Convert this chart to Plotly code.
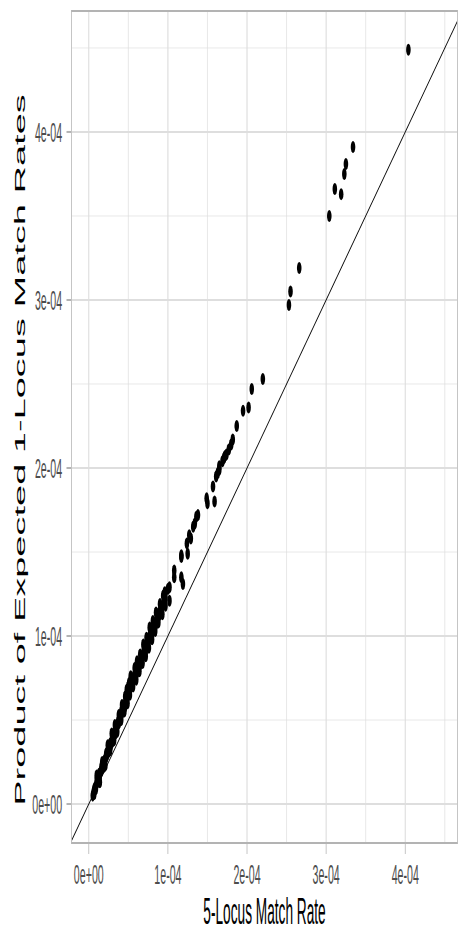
import plotly.graph_objects as go

# ---- data ----
match_rate_5locus = [
    0.05e-4, 0.06e-4, 0.07e-4, 0.07e-4, 0.08e-4, 0.09e-4, 0.10e-4, 0.10e-4, 0.11e-4, 0.12e-4,
    0.13e-4, 0.13e-4, 0.14e-4, 0.15e-4, 0.16e-4, 0.16e-4, 0.17e-4, 0.18e-4, 0.19e-4, 0.19e-4,
    0.20e-4, 0.21e-4, 0.22e-4, 0.22e-4, 0.23e-4, 0.24e-4, 0.25e-4, 0.25e-4, 0.26e-4, 0.27e-4,
    0.28e-4, 0.29e-4, 0.30e-4, 0.30e-4, 0.31e-4, 0.32e-4, 0.33e-4, 0.34e-4, 0.34e-4, 0.35e-4,
    0.36e-4, 0.37e-4, 0.38e-4, 0.39e-4, 0.40e-4, 0.40e-4, 0.41e-4, 0.42e-4, 0.43e-4, 0.44e-4,
    0.45e-4, 0.46e-4, 0.47e-4, 0.48e-4, 0.49e-4, 0.50e-4, 0.50e-4, 0.51e-4, 0.52e-4, 0.53e-4,
    0.54e-4, 0.55e-4, 0.56e-4, 0.57e-4, 0.58e-4, 0.59e-4, 0.60e-4, 0.61e-4, 0.62e-4, 0.63e-4,
    0.64e-4, 0.65e-4, 0.66e-4, 0.67e-4, 0.68e-4, 0.69e-4, 0.70e-4, 0.71e-4, 0.72e-4, 0.73e-4,
    0.74e-4, 0.75e-4, 0.76e-4, 0.77e-4, 0.78e-4, 0.79e-4, 0.80e-4, 0.81e-4, 0.82e-4, 0.83e-4,
    0.84e-4, 0.85e-4, 0.86e-4, 0.87e-4, 0.88e-4, 0.89e-4, 0.90e-4, 0.91e-4, 0.92e-4, 0.93e-4,
    0.95e-4, 0.96e-4, 0.97e-4,
    0.10e-4, 0.14e-4, 0.17e-4, 0.21e-4, 0.24e-4, 0.27e-4, 0.29e-4, 0.32e-4, 0.33e-4, 0.36e-4,
    0.38e-4, 0.41e-4, 0.42e-4, 0.45e-4, 0.46e-4, 0.49e-4, 0.48e-4, 0.52e-4, 0.53e-4, 0.56e-4,
    0.58e-4, 0.60e-4, 0.61e-4, 0.64e-4, 0.65e-4, 0.68e-4, 0.69e-4, 0.72e-4, 0.73e-4, 0.76e-4,
    0.77e-4, 0.80e-4, 0.81e-4, 0.84e-4, 0.85e-4, 0.88e-4, 0.90e-4, 0.93e-4, 0.94e-4, 0.97e-4,
    1.00e-4, 1.02e-4, 1.02e-4, 1.08e-4, 1.08e-4, 1.17e-4, 1.19e-4, 1.17e-4, 1.17e-4, 1.24e-4,
    1.25e-4, 1.27e-4, 1.29e-4, 1.32e-4, 1.34e-4, 1.36e-4, 1.38e-4, 1.50e-4, 1.49e-4, 1.57e-4,
    1.59e-4, 1.61e-4, 1.63e-4, 1.65e-4, 1.65e-4, 1.69e-4, 1.71e-4, 1.72e-4, 1.74e-4, 1.77e-4,
    1.80e-4, 1.82e-4, 1.87e-4, 1.95e-4, 2.02e-4, 2.06e-4, 2.20e-4,
    2.53e-4, 2.55e-4, 2.66e-4, 3.04e-4, 3.11e-4, 3.19e-4, 3.23e-4, 3.25e-4, 3.34e-4, 4.04e-4,
]
expected_product = [
    0.05e-4, 0.07e-4, 0.06e-4, 0.09e-4, 0.10e-4, 0.09e-4, 0.12e-4, 0.14e-4, 0.13e-4, 0.15e-4,
    0.16e-4, 0.18e-4, 0.17e-4, 0.19e-4, 0.20e-4, 0.22e-4, 0.21e-4, 0.23e-4, 0.24e-4, 0.22e-4,
    0.26e-4, 0.27e-4, 0.28e-4, 0.30e-4, 0.29e-4, 0.31e-4, 0.33e-4, 0.31e-4, 0.34e-4, 0.36e-4,
    0.35e-4, 0.38e-4, 0.39e-4, 0.37e-4, 0.40e-4, 0.42e-4, 0.43e-4, 0.45e-4, 0.42e-4, 0.46e-4,
    0.47e-4, 0.49e-4, 0.48e-4, 0.51e-4, 0.53e-4, 0.50e-4, 0.55e-4, 0.54e-4, 0.57e-4, 0.56e-4,
    0.59e-4, 0.58e-4, 0.62e-4, 0.61e-4, 0.64e-4, 0.70e-4, 0.66e-4, 0.72e-4, 0.68e-4, 0.70e-4,
    0.72e-4, 0.71e-4, 0.74e-4, 0.76e-4, 0.75e-4, 0.78e-4, 0.77e-4, 0.80e-4, 0.79e-4, 0.82e-4,
    0.84e-4, 0.83e-4, 0.86e-4, 0.85e-4, 0.88e-4, 0.90e-4, 0.89e-4, 0.92e-4, 0.91e-4, 0.94e-4,
    0.96e-4, 0.95e-4, 0.98e-4, 1.00e-4, 0.99e-4, 1.02e-4, 1.01e-4, 1.04e-4, 1.06e-4, 1.05e-4,
    1.08e-4, 1.07e-4, 1.10e-4, 1.12e-4, 1.11e-4, 1.14e-4, 1.13e-4, 1.16e-4, 1.15e-4, 1.18e-4,
    1.20e-4, 1.26e-4, 1.23e-4,
    0.17e-4, 0.13e-4, 0.25e-4, 0.23e-4, 0.35e-4, 0.32e-4, 0.42e-4, 0.38e-4, 0.47e-4, 0.43e-4,
    0.53e-4, 0.50e-4, 0.59e-4, 0.55e-4, 0.64e-4, 0.60e-4, 0.68e-4, 0.65e-4, 0.76e-4, 0.70e-4,
    0.81e-4, 0.74e-4, 0.85e-4, 0.79e-4, 0.89e-4, 0.84e-4, 0.95e-4, 0.88e-4, 0.99e-4, 0.93e-4,
    1.05e-4, 0.98e-4, 1.09e-4, 1.03e-4, 1.14e-4, 1.08e-4, 1.19e-4, 1.13e-4, 1.24e-4, 1.18e-4,
    1.28e-4, 1.21e-4, 1.29e-4, 1.35e-4, 1.39e-4, 1.35e-4, 1.31e-4, 1.47e-4, 1.48e-4, 1.55e-4,
    1.49e-4, 1.60e-4, 1.58e-4, 1.65e-4, 1.67e-4, 1.71e-4, 1.72e-4, 1.79e-4, 1.82e-4, 1.89e-4,
    1.80e-4, 1.95e-4, 1.97e-4, 1.99e-4, 2.01e-4, 2.04e-4, 2.06e-4, 2.07e-4, 2.08e-4, 2.11e-4,
    2.14e-4, 2.17e-4, 2.25e-4, 2.34e-4, 2.36e-4, 2.47e-4, 2.53e-4,
    2.97e-4, 3.05e-4, 3.19e-4, 3.50e-4, 3.66e-4, 3.63e-4, 3.75e-4, 3.81e-4, 3.91e-4, 4.49e-4,
]
identity_line = [-1e-4, 6e-4]           # y = x reference line
tick_values = [0, 1e-4, 2e-4, 3e-4, 4e-4]
tick_labels = ["0e+00", "1e-04", "2e-04", "3e-04", "4e-04"]
x_title = "5-Locus Match Rate"
y_title = "Product of Expected 1-Locus Match Rates"

# ---- geometry: drawn wide, then squeezed horizontally like the reference ----
SQUEEZE = 0.38
W, H = round(458 / SQUEEZE), 934
L, R, T, B = round(72 / SQUEEZE), 0, 12, 92

FONT = "Liberation Sans, Arial, sans-serif"
GRID = "#DEDEDE"
BORDER = "#B3B3B3"

fig = go.Figure()
fig.add_trace(go.Scatter(
    x=identity_line, y=identity_line, mode="lines",
    line=dict(color="black", width=1.6), hoverinfo="skip", showlegend=False,
))
fig.add_trace(go.Scatter(
    x=match_rate_5locus, y=expected_product, mode="markers",
    marker=dict(color="black", size=12, line=dict(width=0)),
    showlegend=False,
))

axis_common = dict(
    tickvals=tick_values, ticktext=tick_labels,
    showgrid=True, gridcolor=GRID, gridwidth=2.2,
    minor=dict(dtick=0.5e-4, tick0=0, showgrid=True, gridcolor=GRID, gridwidth=1.2),
    zeroline=False, showline=True, mirror=True, linecolor=BORDER, linewidth=2,
    ticks="outside", tickcolor=BORDER, tickwidth=2,
    tickfont=dict(family=FONT, size=28, color="#4D4D4D"),
)
fig.update_xaxes(range=[-0.2145e-4, 4.656e-4], ticklen=10, ticklabelstandoff=-4, **axis_common)
fig.update_yaxes(range=[-0.226e-4, 4.714e-4], ticklen=12, ticklabelstandoff=6, **axis_common)

plot_w = W - L - R
plot_h = H - T - B
fig.add_annotation(
    text=x_title, xref="paper", yref="paper", x=0.5, y=(842 - 933) / plot_h,
    xanchor="center", yanchor="bottom", showarrow=False, borderpad=0,
    font=dict(family=FONT, size=36, color="black"),
)
fig.add_annotation(
    text=y_title, xref="paper", yref="paper", x=(20 / SQUEEZE - L) / plot_w, y=(842 - 450) / plot_h,
    xanchor="center", yanchor="middle", showarrow=False, textangle=-90,
    font=dict(family=FONT, size=38, color="black"),
)

fig.update_layout(
    width=W, height=H, autosize=False,
    margin=dict(l=L, r=R, t=T, b=B, pad=0),
    plot_bgcolor="white", paper_bgcolor="white",
)

post = """
var gd = document.getElementById('{plot_id}');
document.documentElement.style.margin = '0';
document.body.style.margin = '0';
document.documentElement.style.overflow = 'hidden';
document.body.style.overflow = 'hidden';
gd.style.transformOrigin = '0 0';
gd.style.transform = 'scaleX(%s)';
""" % SQUEEZE

fig.write_html("out.html", post_script=post)
